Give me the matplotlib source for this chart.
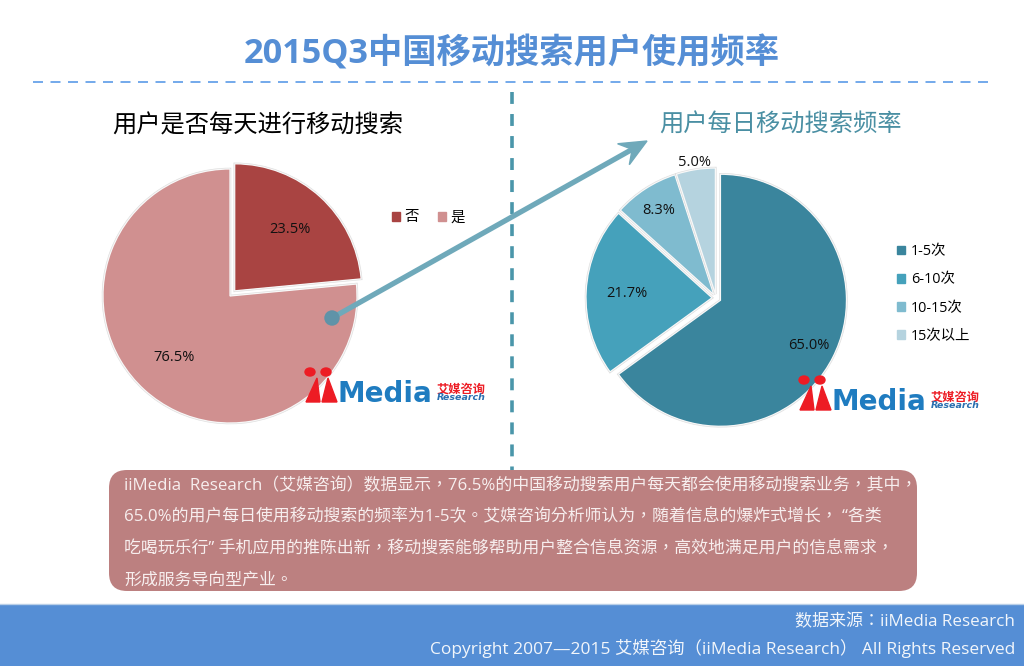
import numpy as np
import matplotlib
matplotlib.use('Agg')
import matplotlib.pyplot as plt
import matplotlib.patheffects as pe
from matplotlib.patches import FancyBboxPatch, Rectangle, Ellipse, Circle, Polygon, Patch

plt.rcParams['font.family'] = ['Open Sans', 'Noto Sans CJK SC', 'DejaVu Sans']

# data
daily_labels = ['否', '是']
daily_values = [23.5, 76.5]
freq_labels = ['1-5次', '6-10次', '10-15次', '15次以上']
freq_values = [65.0, 21.7, 8.3, 5.0]

title = '2015Q3中国移动搜索用户使用频率'
left_title = '用户是否每天进行移动搜索'
right_title = '用户每日移动搜索频率'
body_lines = [
    'iiMedia  Research（艾媒咨询）数据显示，76.5%的中国移动搜索用户每天都会使用移动搜索业务，其中，',
    '65.0%的用户每日使用移动搜索的频率为1-5次。艾媒咨询分析师认为，随着信息的爆炸式增长， “各类',
    '吃喝玩乐行” 手机应用的推陈出新，移动搜索能够帮助用户整合信息资源，高效地满足用户的信息需求，',
    '形成服务导向型产业。',
]
source_text = '数据来源：iiMedia Research'
copyright_text = 'Copyright 2007—2015 艾媒咨询（iiMedia Research） All Rights Reserved'

W, H = 1024, 666
BLUE = '#558ed5'
DAILY_COLORS = ['#a94442', '#d09090']
FREQ_COLORS = ['#3a859d', '#45a1bb', '#7fbbcf', '#b5d3df']
# 逗号和冒号居中，TC 字形更接近
TEXT_FONT = ['Open Sans', 'Noto Sans CJK TC', 'DejaVu Sans']


def py(y):
    # 像素坐标，原点在左上
    return H - y


fig = plt.figure(figsize=(10.24, 6.66), dpi=100)
ax = fig.add_axes([0, 0, 1, 1])


def draw_pie(values, colors, center, radius, explode, label_dist):
    # explode 在这里是数据单位，也就是像素
    wedges, _ = ax.pie(values, colors=colors, center=(center[0], py(center[1])), radius=radius,
                       explode=explode, startangle=90, counterclock=False, frame=True,
                       wedgeprops=dict(edgecolor='#f8f8f8', linewidth=0.9, zorder=3,
                                       path_effects=[pe.Stroke(linewidth=1.8, foreground='#dedede'), pe.Normal()]))
    for w, v, d in zip(wedges, values, label_dist):
        mid = np.deg2rad((w.theta1 + w.theta2) / 2)
        x = w.center[0] + d * w.r * np.cos(mid)
        y = w.center[1] + d * w.r * np.sin(mid)
        ax.text(x, y, '%.1f%%' % v, ha='center', va='center', fontsize=10.5, color='#111111', zorder=6)
    return wedges


def draw_logo(dx, dy):
    red = '#ed1c24'
    for cx in (310, 326):
        ax.add_patch(Ellipse((cx + dx, py(372 + dy)), 10, 8, color=red, zorder=7))
    for x0, x1, apex in ((306, 320, 317), (322, 337, 328)):
        ax.add_patch(Polygon([(x0 + dx, py(402 + dy)), (x1 + dx, py(402 + dy)), (apex + dx, py(378 + dy))],
                             closed=True, color=red, zorder=7))
    ax.text(338 + dx, py(402 + dy), 'Media', fontsize=20, fontweight='bold', family='DejaVu Sans',
            color='#1f7cc0', ha='left', va='baseline', zorder=7)
    ax.text(437 + dx, py(389 + dy), '艾媒咨询', fontsize=8.8, fontweight='bold', family='Noto Sans CJK SC',
            color=red, ha='left', va='center', zorder=7)
    ax.text(437 + dx, py(398 + dy), 'Research', fontsize=6.8, fontweight='bold', style='italic', family='DejaVu Sans',
            color='#2a6fb0', ha='left', va='center', zorder=7)


# 标题和分隔线
ax.text(512, py(54), title, fontsize=24.7, fontweight='bold', color=BLUE, ha='center', va='center')
ax.plot([33, 990], [py(82), py(82)], color='#5b9be8', lw=1.2, dashes=(6, 4.5))
ax.plot([512, 512], [py(92), py(472)], color='#4a96aa', lw=2.6, dashes=(3.3, 2.8), zorder=2)
ax.text(258, py(126), left_title, fontsize=17.5, color='black', ha='center', va='center')
ax.text(780, py(126), right_title, fontsize=17.5, color='#4a8fa3', ha='center', va='center')

# 两个饼图
draw_pie(daily_values, DAILY_COLORS, (230, 296), 127, [7, 0], [0.65, 0.65])
draw_pie(freq_values, FREQ_COLORS, (716, 298), 126, [5, 4, 4, 4], [0.79, 0.68, 0.8, 1.06])

# 箭头
start = np.array([332, py(318)], dtype=float)
tip = np.array([647, py(141)], dtype=float)
u = (tip - start) / np.linalg.norm(tip - start)
n = np.array([-u[1], u[0]])
ax.plot([start[0], (tip - 14 * u)[0]], [start[1], (tip - 14 * u)[1]], color='#6fa9ba', lw=3.8, zorder=5,
        solid_capstyle='butt')
ax.add_patch(Polygon([tip, tip - 27 * u + 12 * n, tip - 17 * u, tip - 27 * u - 12 * n], closed=True,
                     color='#6fa9ba', zorder=5))
ax.add_patch(Circle(start, 7, color='#5f93a8', zorder=5))

# 图例
leg1 = ax.legend(handles=[Patch(color=c, label=l) for c, l in zip(DAILY_COLORS, daily_labels)],
                 loc='center left', bbox_to_anchor=(392, py(218)), bbox_transform=ax.transData, ncols=2,
                 frameon=False, fontsize=10.4, handlelength=0.55, handleheight=0.55, handletextpad=0.3,
                 columnspacing=1.35, borderpad=0, borderaxespad=0)
ax.add_artist(leg1)
ax.legend(handles=[Patch(color=c, label=l) for c, l in zip(FREQ_COLORS, freq_labels)],
          loc='center left', bbox_to_anchor=(897, py(294)), bbox_transform=ax.transData,
          frameon=False, fontsize=10.4, handlelength=0.55, handleheight=0.55, handletextpad=0.4,
          labelspacing=0.92, borderpad=0, borderaxespad=0)

draw_logo(0, 0)
draw_logo(494, 8)

# 文字框
ax.add_patch(FancyBboxPatch((127, py(573)), 772, 85, boxstyle='round,pad=18,rounding_size=18', linewidth=0,
                            facecolor='#bc8080', zorder=4))
for line, y in zip(body_lines, [486, 517, 549, 581]):
    ax.text(124, py(y), line, fontsize=12.2, color='#f7eeee', ha='left', va='center', zorder=8, family=TEXT_FONT)

# 底部
ax.add_patch(Rectangle((0, 0), W, 62, facecolor=BLUE, edgecolor='none', zorder=4))
ax.plot([0, W], [py(604), py(604)], color='#b9cfe8', lw=1, zorder=5)
ax.text(1015, py(622), source_text, fontsize=12.25, color='#f2f6fb', ha='right', va='center', zorder=8,
        family=TEXT_FONT)
ax.text(1015, py(649), copyright_text, fontsize=12.55, color='#f2f6fb', ha='right', va='center', zorder=8,
        family=TEXT_FONT)

ax.set_xlim(0, W)
ax.set_ylim(0, H)
ax.set_aspect('auto')
ax.axis('off')
plt.savefig('out.png', dpi=100)
